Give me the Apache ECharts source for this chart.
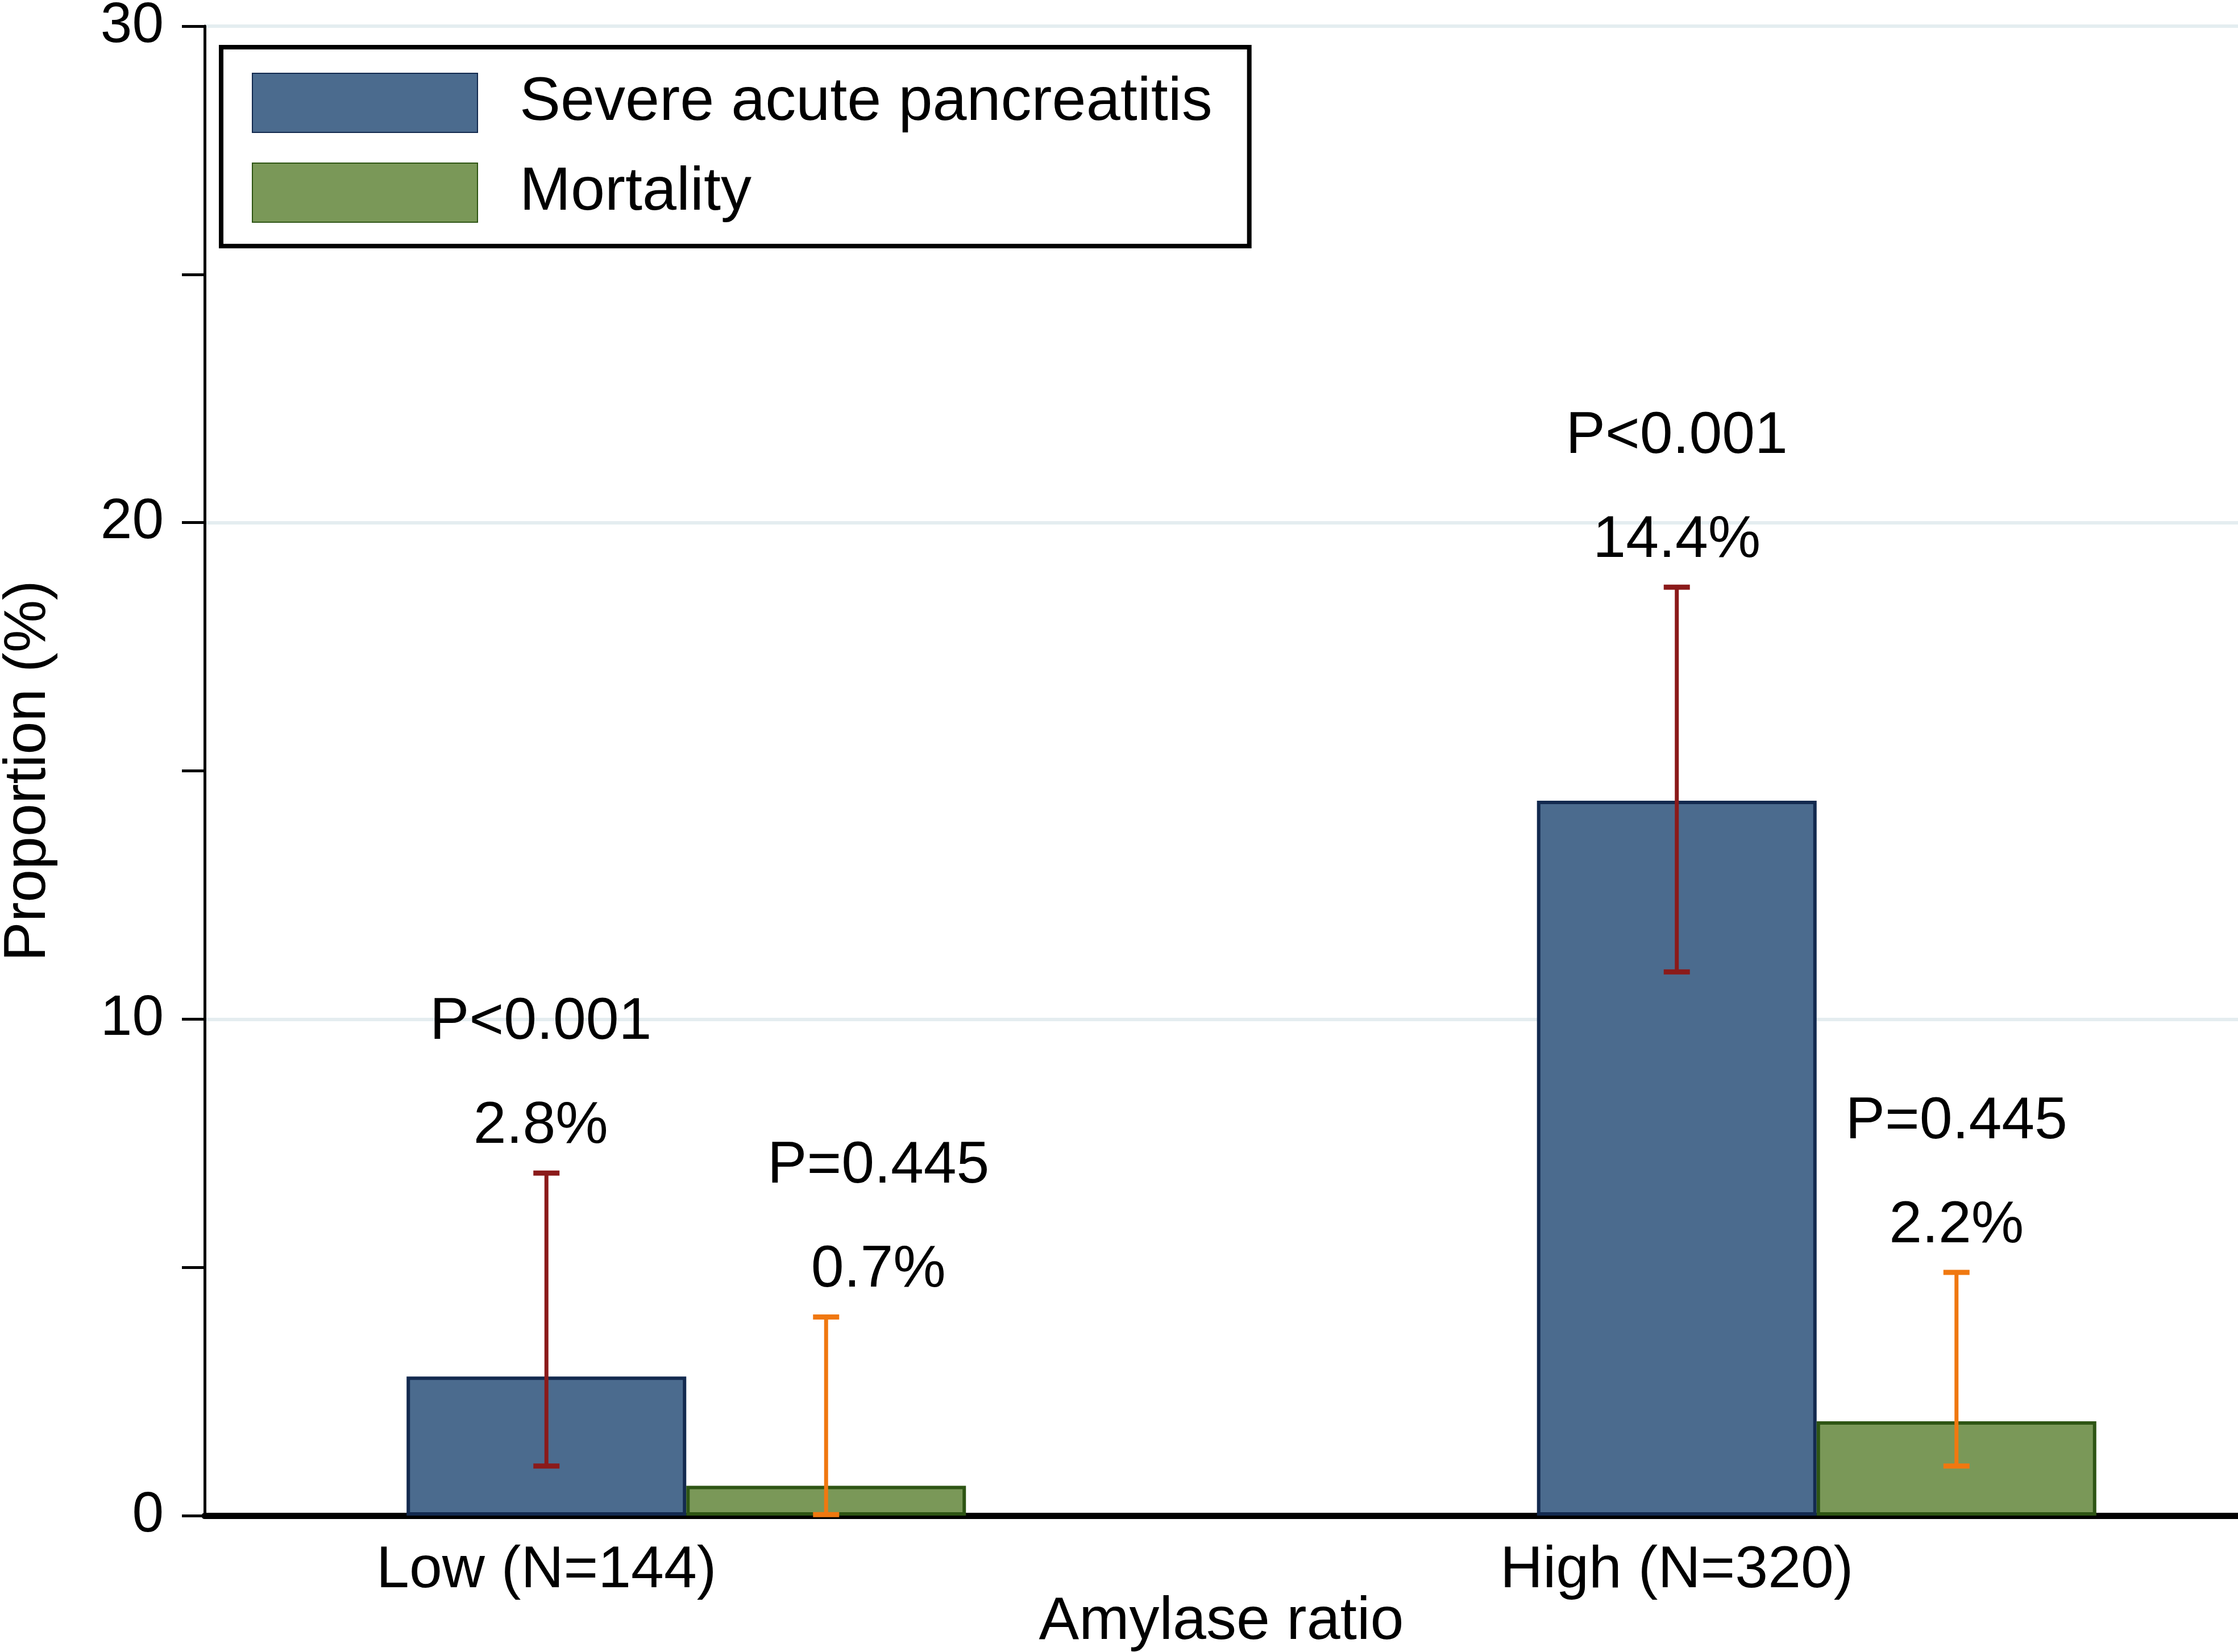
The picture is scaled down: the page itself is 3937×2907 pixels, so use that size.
<!DOCTYPE html>
<html>
<head>
<meta charset="utf-8">
<script src="https://cdn.jsdelivr.net/npm/echarts@6/dist/echarts.min.js"></script>
<style>
html,body{margin:0;padding:0;background:#fff;}
#chart{width:3937px;height:2907px;}
</style>
</head>
<body>
<div id="chart"></div>
<script>
// ---- data ----
const categories = ['Low (N=144)', 'High (N=320)'];
const seriesNames = ['Severe acute pancreatitis', 'Mortality'];
const sapValues = [2.8, 14.4];
const mortValues = [0.6, 1.9];
const sapCILow = [1.0, 10.95];
const sapCIHigh = [6.9, 18.7];
const mortCILow = [0.02, 1.0];
const mortCIHigh = [4.0, 4.9];
const sapPctLabels = ['2.8%', '14.4%'];
const mortPctLabels = ['0.7%', '2.2%'];
const sapPLabels = ['P<0.001', 'P<0.001'];
const mortPLabels = ['P=0.445', 'P=0.445'];
const yMin = 0, yMax = 30, yStep = 10;

// ---- styles ----
const FONT = '"Liberation Sans", Arial, sans-serif';
const BAR_W = 492;
const GRID_TOP = 46, GRID_BOTTOM = 240;

function makeErr(side, color, pctLabels, pLabels, labelDx) {
  return function (params, api) {
    const i = params.dataIndex;
    const cat = api.value(0);
    const pLo = api.coord([cat, api.value(1)]);
    const pHi = api.coord([cat, api.value(2)]);
    const x = pLo[0] + side * BAR_W / 2;
    const capW = 23;
    const lx = x + labelDx[i];
    return {
      type: 'group',
      children: [
        {type: 'line', shape: {x1: x, y1: pLo[1], x2: x, y2: pHi[1]}, style: {stroke: color, lineWidth: 7}},
        {type: 'line', shape: {x1: x - capW, y1: pHi[1], x2: x + capW, y2: pHi[1]}, style: {stroke: color, lineWidth: 9}},
        {type: 'line', shape: {x1: x - capW, y1: pLo[1], x2: x + capW, y2: pLo[1]}, style: {stroke: color, lineWidth: 9}},
        {type: 'text', style: {text: pctLabels[i], x: lx, y: pHi[1] - 82, fill: '#000',
          font: '104px ' + FONT, align: 'center', verticalAlign: 'middle'}},
        {type: 'text', style: {text: pLabels[i], x: lx, y: pHi[1] - 265, fill: '#000',
          font: '104px ' + FONT, align: 'center', verticalAlign: 'middle'}}
      ]
    };
  };
}

const chart = echarts.init(document.getElementById('chart'), null, {renderer: 'canvas'});
chart.setOption({
  animation: false,
  backgroundColor: '#fff',
  textStyle: {fontFamily: FONT},
  legend: {
    data: seriesNames,
    orient: 'vertical',
    left: 389, top: 83,
    backgroundColor: '#fff',
    borderColor: '#000', borderWidth: 8,
    padding: [44, 65, 40, 54],
    itemWidth: 396, itemHeight: 104, itemGap: 50,
    icon: 'rect',
    textStyle: {fontSize: 108, color: '#000', fontFamily: FONT, padding: [0, 0, 0, 69]}
  },
  grid: [
    {left: 360, right: 0, top: GRID_TOP, bottom: GRID_BOTTOM, containLabel: false, outerBoundsMode: 'none'},
    {left: 213, width: 3977, top: GRID_TOP, bottom: GRID_BOTTOM, containLabel: false, outerBoundsMode: 'none'}
  ],
  xAxis: [
    {
      gridIndex: 0, type: 'value', min: 0, max: 1,
      axisLine: {show: true, onZero: false, lineStyle: {color: '#000', width: 11}},
      axisTick: {show: false}, axisLabel: {show: false}, splitLine: {show: false},
      name: 'Amylase ratio', nameLocation: 'middle', nameGap: 135,
      nameTextStyle: {fontSize: 106, color: '#000', fontFamily: FONT}
    },
    {
      gridIndex: 1, type: 'category', data: categories,
      axisLine: {show: false}, axisTick: {show: false}, splitLine: {show: false},
      axisLabel: {fontSize: 104, color: '#000', fontFamily: FONT, margin: 45, padding: [0, BAR_W, 0, 0]}
    }
  ],
  yAxis: [
    {
      gridIndex: 0, type: 'value', min: yMin, max: yMax, interval: yStep,
      axisLine: {show: true, lineStyle: {color: '#000', width: 5}},
      axisTick: {show: true, length: 40, lineStyle: {color: '#000', width: 5}},
      minorTick: {show: true, splitNumber: 2, length: 40, lineStyle: {color: '#000', width: 5}},
      axisLabel: {fontSize: 100, color: '#000', fontFamily: FONT, margin: 72},
      splitLine: {show: true, lineStyle: {color: '#e4edf0', width: 6}},
      name: 'Proportion (%)', nameLocation: 'middle', nameGap: 258,
      nameTextStyle: {fontSize: 104, color: '#000', fontFamily: FONT}
    },
    {
      gridIndex: 1, type: 'value', min: yMin, max: yMax, show: false, splitLine: {show: false}
    }
  ],
  series: [
    {
      name: seriesNames[0], type: 'bar', xAxisIndex: 1, yAxisIndex: 1,
      data: sapValues, barWidth: BAR_W, barGap: '0%',
      itemStyle: {color: '#4b6b8e', borderColor: '#132a4f', borderWidth: 6}
    },
    {
      name: seriesNames[1], type: 'bar', xAxisIndex: 1, yAxisIndex: 1,
      data: mortValues, barWidth: BAR_W, barGap: '0%',
      itemStyle: {color: '#7a9858', borderColor: '#2e5514', borderWidth: 6}
    },
    {
      type: 'custom', xAxisIndex: 1, yAxisIndex: 1, z: 10,
      encode: {x: 0, y: [1, 2]},
      data: categories.map((c, i) => [i, sapCILow[i], sapCIHigh[i]]),
      renderItem: makeErr(-1, '#8b1a1a', sapPctLabels, sapPLabels, [-10, 0])
    },
    {
      type: 'custom', xAxisIndex: 1, yAxisIndex: 1, z: 10,
      encode: {x: 0, y: [1, 2]},
      data: categories.map((c, i) => [i, mortCILow[i], mortCIHigh[i]]),
      renderItem: makeErr(1, '#f07810', mortPctLabels, mortPLabels, [92, 0])
    }
  ]
});
</script>
</body>
</html>
